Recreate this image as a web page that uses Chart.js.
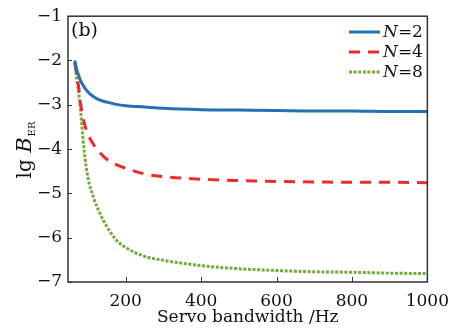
<!DOCTYPE html>
<html><head><meta charset="utf-8">
<script src="https://cdn.jsdelivr.net/npm/chart.js@4/dist/chart.umd.min.js"></script>
<style>html,body{margin:0;padding:0;background:#fff}#c{display:block}</style>
</head><body>
<canvas id="c" width="458" height="329"></canvas>
<script>
const bandwidth = [65, 70, 75, 80, 90, 100, 115, 130, 150, 175, 200, 250, 300, 400, 500, 600, 700, 800, 900, 1000];
const seriesN2 = [-2.0, -2.2, -2.33, -2.45, -2.6, -2.71, -2.82, -2.89, -2.94, -2.99, -3.02, -3.05, -3.08, -3.11, -3.12, -3.13, -3.14, -3.14, -3.15, -3.15];
const seriesN4 = [-2.05, -2.3, -2.58, -2.95, -3.4, -3.66, -3.9, -4.06, -4.23, -4.35, -4.43, -4.56, -4.62, -4.68, -4.71, -4.73, -4.74, -4.75, -4.75, -4.76];
const seriesN8 = [-2.05, -2.4, -2.7, -3.1, -4.05, -4.65, -5.1, -5.42, -5.75, -6.05, -6.22, -6.42, -6.51, -6.63, -6.7, -6.74, -6.77, -6.78, -6.8, -6.81];
const seriesNames = ['2', '4', '8'];
const xTicks = [200, 400, 600, 800, 1000];
const yTicks = [-7, -6, -5, -4, -3, -2, -1];

const FONT = '"DejaVu Serif", serif';
const pts = arr => bandwidth.map((x, i) => ({x, y: arr[i]}));

const colors = ['#2372b4', '#ee2a2a', '#73aa3a'];
const dashes = [[], [11, 8], [3, 1.6]];

const decor = {
  id: 'decor',
  afterDraw(chart) {
    const ctx = chart.ctx, a = chart.chartArea;
    const xs = chart.scales.x, ys = chart.scales.y;
    ctx.save();
    // frame
    ctx.strokeStyle = '#333';
    ctx.lineWidth = 1.5;
    ctx.strokeRect(a.left, a.top, a.right - a.left, a.bottom - a.top);
    // inward ticks (bottom and left only)
    ctx.lineWidth = 1;
    ctx.strokeStyle = '#333';
    xTicks.forEach(v => {
      const px = Math.round(xs.getPixelForValue(v)) + 0.5;
      ctx.beginPath(); ctx.moveTo(px, a.bottom); ctx.lineTo(px, a.bottom - 5); ctx.stroke();
    });
    yTicks.forEach(v => {
      const py = Math.round(ys.getPixelForValue(v)) + 0.5;
      ctx.beginPath(); ctx.moveTo(a.left, py); ctx.lineTo(a.left + 4, py); ctx.stroke();
    });
    ctx.fillStyle = '#111';
    // (b)
    ctx.font = '19px ' + FONT;
    ctx.textAlign = 'left'; ctx.textBaseline = 'middle';
    ctx.fillText('(b)', a.left + 3, a.top + 15);
    // x title
    ctx.font = '17px ' + FONT;
    ctx.textAlign = 'center'; ctx.textBaseline = 'middle';
    ctx.fillText('Servo bandwidth /Hz', (a.left + a.right) / 2, 318);
    // y title rotated
    ctx.save();
    ctx.translate(31, 150);
    ctx.rotate(-Math.PI / 2);
    ctx.textBaseline = 'alphabetic';
    ctx.textAlign = 'left';
    const t1 = 'lg ';
    ctx.font = 'italic 21px ' + FONT;
    const wB = ctx.measureText('B').width;
    ctx.font = '20px ' + FONT;
    const w1 = ctx.measureText(t1).width;
    ctx.font = '10px ' + FONT;
    const wE = ctx.measureText('ER').width;
    const total = w1 + wB + 1 + wE;
    const x0 = -total / 2;
    ctx.font = '20px ' + FONT;
    ctx.fillText(t1, x0, 0);
    ctx.font = 'italic 21px ' + FONT;
    ctx.fillText('B', x0 + w1, 0);
    ctx.font = '10px ' + FONT;
    ctx.fillText('ER', x0 + w1 + wB + 1, 4);
    ctx.restore();
    // legend
    const ly = [32, 52, 72];
    chart.data.datasets.forEach((ds, i) => {
      ctx.save();
      ctx.strokeStyle = ds.borderColor;
      ctx.lineWidth = ds.borderWidth;
      ctx.setLineDash(ds.borderDash || []);
      ctx.beginPath(); ctx.moveTo(349, ly[i]); ctx.lineTo(380, ly[i]); ctx.stroke();
      ctx.restore();
      ctx.fillStyle = '#111';
      ctx.textBaseline = 'middle'; ctx.textAlign = 'left';
      ctx.font = 'italic 17px ' + FONT;
      const wN = ctx.measureText('N').width;
      ctx.fillText('N', 383, ly[i] + 1);
      ctx.font = '17px ' + FONT;
      ctx.fillText('=' + seriesNames[i], 383 + wN, ly[i] + 1);
    });
    ctx.restore();
  }
};

new Chart(document.getElementById('c'), {
  type: 'line',
  data: {
    datasets: [seriesN2, seriesN4, seriesN8].map((s, i) => ({
      label: 'N=' + seriesNames[i],
      data: pts(s),
      borderColor: colors[i],
      borderWidth: 3,
      borderDash: dashes[i],
      pointRadius: 0,
      fill: false,
      cubicInterpolationMode: 'monotone'
    }))
  },
  options: {
    responsive: false,
    animation: false,
    layout: {padding: {top: 15, right: 28, left: 0, bottom: 0}},
    plugins: {legend: {display: false}, tooltip: {enabled: false}},
    scales: {
      x: {
        type: 'linear', min: 47, max: 1000,
        afterBuildTicks: s => { s.ticks = xTicks.map(v => ({value: v})); },
        afterFit: s => { s.height = 47; },
        grid: {display: false, drawTicks: false},
        border: {display: false},
        ticks: {padding: 9, color: '#111', font: {family: FONT, size: 17}, maxRotation: 0,
          callback: v => String(v)}
      },
      y: {
        type: 'linear', min: -7, max: -1,
        afterBuildTicks: s => { s.ticks = yTicks.map(v => ({value: v})); },
        afterFit: s => { s.width = 68; },
        grid: {display: false, drawTicks: false},
        border: {display: false},
        ticks: {padding: 6, color: '#111', font: {family: FONT, size: 17},
          callback: v => String(v).replace('-', '\u2212')}
      }
    }
  },
  plugins: [decor]
});
</script>
</body></html>
